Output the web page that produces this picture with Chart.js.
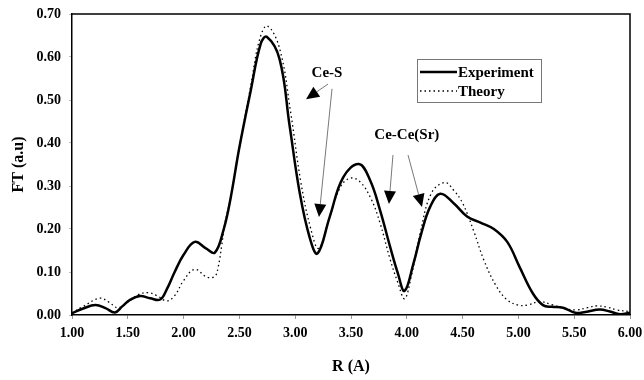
<!DOCTYPE html>
<html>
<head>
<meta charset="utf-8">
<script src="https://cdn.jsdelivr.net/npm/chart.js@4.4.0/dist/chart.umd.min.js"></script>
<style>
html,body{margin:0;padding:0;background:#fff;}
#wrap{width:644px;height:380px;position:relative;}
</style>
</head>
<body>
<div id="wrap"><canvas id="c" width="644" height="380"></canvas></div>
<script>
// ---- data ----
const R_EXP = [1.00,1.10,1.21,1.30,1.385,1.45,1.52,1.61,1.70,1.79,1.85,1.92,2.00,2.10,2.20,2.28,2.36,2.42,2.50,2.60,2.69,2.745,2.86,2.95,3.04,3.13,3.20,3.31,3.43,3.57,3.67,3.76,3.85,3.92,3.98,4.06,4.13,4.21,4.30,4.42,4.54,4.66,4.78,4.90,5.01,5.13,5.22,5.30,5.40,5.51,5.60,5.73,5.82,5.91,6.00];
const FT_EXP = [0.004,0.015,0.023,0.016,0.006,0.020,0.035,0.044,0.039,0.036,0.060,0.100,0.140,0.170,0.155,0.145,0.200,0.270,0.390,0.520,0.630,0.647,0.595,0.440,0.285,0.180,0.143,0.229,0.320,0.351,0.314,0.244,0.159,0.097,0.056,0.120,0.190,0.252,0.282,0.260,0.229,0.215,0.200,0.170,0.112,0.050,0.023,0.019,0.017,0.005,0.007,0.013,0.008,0.002,0.005];
const R_THEORY = [1.00,1.10,1.25,1.33,1.41,1.50,1.60,1.68,1.76,1.85,1.92,2.00,2.10,2.21,2.28,2.31,2.34,2.37,2.42,2.50,2.60,2.68,2.75,2.86,2.96,3.05,3.14,3.21,3.30,3.40,3.49,3.58,3.68,3.76,3.85,3.92,3.98,4.04,4.12,4.22,4.34,4.42,4.50,4.60,4.69,4.80,4.90,5.00,5.08,5.19,5.30,5.40,5.52,5.62,5.70,5.80,5.88,6.00];
const FT_THEORY = [0.005,0.020,0.039,0.030,0.017,0.030,0.048,0.052,0.045,0.033,0.045,0.080,0.106,0.088,0.090,0.112,0.159,0.213,0.270,0.390,0.530,0.640,0.672,0.620,0.470,0.310,0.200,0.155,0.220,0.295,0.318,0.310,0.270,0.214,0.130,0.075,0.038,0.090,0.190,0.283,0.308,0.290,0.260,0.195,0.128,0.068,0.035,0.023,0.023,0.031,0.024,0.016,0.012,0.017,0.021,0.018,0.012,0.008];
const X_TICKS = [1.00,1.50,2.00,2.50,3.00,3.50,4.00,4.50,5.00,5.50,6.00];
const Y_TICKS = [0.00,0.10,0.20,0.30,0.40,0.50,0.60,0.70];
const SERIES_LABELS = ["Experiment","Theory"];
const X_TITLE = "R (A)";
const Y_TITLE = "FT (a.u)";
// annotations: [label, textR, textFT]; arrows: [fromR, fromFT, toR, toFT]
const LABEL_CES = ["Ce-S", 3.285, 0.563];
const ARROWS_CES = [[3.294,0.537,3.097,0.502],[3.33,0.526,3.213,0.228]];
const LABEL_CECE = ["Ce-Ce(Sr)", 4.0, 0.419];
const ARROWS_CECE = [[3.876,0.372,3.84,0.258],[4.011,0.372,4.136,0.251]];

const SERIF = '"Liberation Serif","DejaVu Serif",serif';

function pts(xs, ys){ return xs.map((x,i)=>({x:x,y:ys[i]})); }

const overlay = {
  id:'overlay',
  afterDatasetsDraw(chart){
    const ctx = chart.ctx, a = chart.chartArea;
    const xs = chart.scales.x, ys = chart.scales.y;
    ctx.save();
    // frame top/right
    ctx.strokeStyle = '#000'; ctx.lineWidth = 1.5;
    ctx.beginPath();
    ctx.moveTo(a.left, a.top); ctx.lineTo(a.right, a.top); ctx.lineTo(a.right, a.bottom);
    ctx.stroke();
    // annotation labels
    ctx.fillStyle = '#000';
    ctx.font = 'bold 15px ' + SERIF;
    ctx.textAlign = 'center'; ctx.textBaseline = 'middle';
    [LABEL_CES, LABEL_CECE].forEach(l=>{
      ctx.fillText(l[0], xs.getPixelForValue(l[1]), ys.getPixelForValue(l[2]));
    });
    // arrows
    function arrow(f){
      const x1 = xs.getPixelForValue(f[0]), y1 = ys.getPixelForValue(f[1]);
      const x2 = xs.getPixelForValue(f[2]), y2 = ys.getPixelForValue(f[3]);
      const ang = Math.atan2(y2-y1, x2-x1);
      const L = 13, W = 6;
      const bx = x2 - L*Math.cos(ang), by = y2 - L*Math.sin(ang);
      ctx.strokeStyle = '#555'; ctx.lineWidth = 0.8;
      ctx.beginPath(); ctx.moveTo(x1,y1); ctx.lineTo(bx,by); ctx.stroke();
      ctx.fillStyle = '#000';
      ctx.beginPath();
      ctx.moveTo(x2,y2);
      ctx.lineTo(bx + W*Math.sin(ang), by - W*Math.cos(ang));
      ctx.lineTo(bx - W*Math.sin(ang), by + W*Math.cos(ang));
      ctx.closePath(); ctx.fill();
    }
    ARROWS_CES.forEach(arrow); ARROWS_CECE.forEach(arrow);
    // legend box
    const lx = 417, ly = 59, lw = 124, lh = 43;
    ctx.strokeStyle = '#777'; ctx.lineWidth = 1;
    ctx.strokeRect(lx+0.5, ly+0.5, lw, lh);
    ctx.font = 'bold 15px ' + SERIF;
    ctx.textAlign = 'left'; ctx.textBaseline = 'middle';
    const rows = [ly+13, ly+32];
    chart.data.datasets.forEach((ds,i)=>{
      ctx.strokeStyle = '#000';
      ctx.lineWidth = ds.borderWidth;
      ctx.setLineDash(ds.borderDash || []);
      ctx.beginPath(); ctx.moveTo(lx+3, rows[i]); ctx.lineTo(lx+40, rows[i]); ctx.stroke();
      ctx.setLineDash([]);
      ctx.fillStyle = '#000';
      ctx.fillText(ds.label, lx+41, rows[i]+1);
    });
    ctx.restore();
  }
};

new Chart(document.getElementById('c'), {
  type:'line',
  data:{
    datasets:[
      {label:SERIES_LABELS[0], data:pts(R_EXP,FT_EXP), borderColor:'#000', borderWidth:2.5, pointRadius:0, tension:0.4, fill:false},
      {label:SERIES_LABELS[1], data:pts(R_THEORY,FT_THEORY), borderColor:'#000', borderWidth:1.3, borderDash:[1.5,3], pointRadius:0, tension:0.4, fill:false}
    ]
  },
  options:{
    responsive:false, animation:false, devicePixelRatio:1,
    layout:{padding:{top:14,right:14,left:5,bottom:0}},
    plugins:{legend:{display:false}, tooltip:{enabled:false}},
    scales:{
      x:{type:'linear', min:1, max:6,
        afterBuildTicks(s){ s.ticks = X_TICKS.map(v=>({value:v})); },
        afterFit(s){ s.height = 65; s.paddingLeft = 0; s.paddingRight = 0; },
        ticks:{autoSkip:false, maxRotation:0, color:'#000', padding:6, font:{family:SERIF, size:14, weight:'bold'}, callback:v=>Number(v).toFixed(2)},
        grid:{display:true, drawOnChartArea:false, tickLength:4, color:'#999'},
        border:{display:true, color:'#000', width:1.5},
        title:{display:true, text:X_TITLE, color:'#000', font:{family:SERIF, size:16, weight:'bold'}, padding:{top:4}}
      },
      y:{type:'linear', min:0, max:0.7,
        afterBuildTicks(s){ s.ticks = Y_TICKS.map(v=>({value:v})); },
        afterFit(s){ s.width = 67; s.paddingTop = 0; s.paddingBottom = 0; },
        ticks:{color:'#000', padding:8, font:{family:SERIF, size:14, weight:'bold'}, callback:v=>Number(v).toFixed(2)},
        grid:{display:true, drawOnChartArea:false, tickLength:3, color:'#bbb'},
        border:{display:true, color:'#000', width:1.5},
        title:{display:true, text:Y_TITLE, color:'#000', font:{family:SERIF, size:16, weight:'bold'}, padding:{bottom:6}}
      }
    }
  },
  plugins:[overlay]
});
</script>
</body>
</html>
